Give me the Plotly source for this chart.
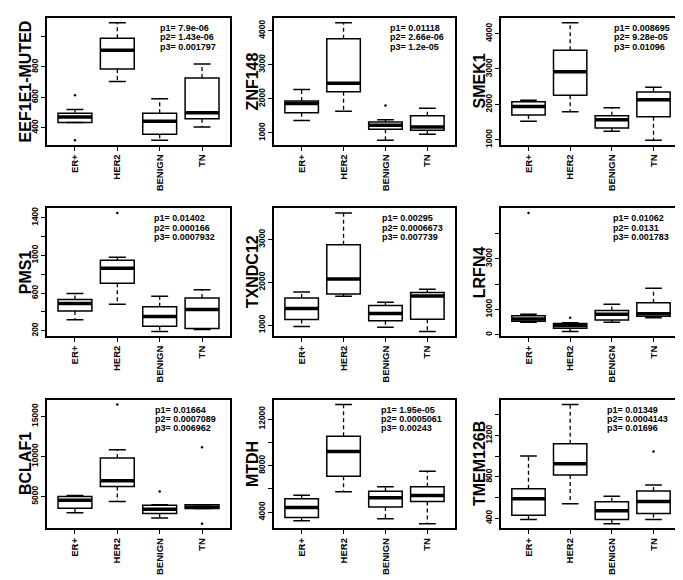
import plotly.graph_objects as go

# Groups on the x axis and the genes of the nine panels
groups = ["ER+", "HER2", "BENIGN", "TN"]
genes = ["EEF1E1-MUTED", "ZNF148", "SMEK1",
         "PMS1", "TXNDC12", "LRFN4",
         "BCLAF1", "MTDH", "TMEM126B"]

# Box statistics, one list of 4 groups per gene (ER+, HER2, BENIGN, TN)
lower_whisker = [[433, 704, 317, 404], [1366, 1636, 788, 961], [1522, 1792, 1242, 991],
                 [316, 481, 193, 214], [969, 1674, 953, 853], [494, 130, 494, 675],
                 [2975, 4380, 2314, 3512], [3257, 5743, 3429, 3000], [387, 538, 345, 387]]
q1 = [[433, 787, 356, 459], [1588, 2205, 1106, 1077], [1699, 2258, 1335, 1652],
      [411, 705, 249, 225], [1132, 1729, 1101, 1140], [532, 260, 584, 727],
      [3554, 6240, 2893, 3512], [3543, 7086, 4429, 4914], [426, 818, 387, 445]]
median = [[470, 911, 441, 498], [1858, 2456, 1222, 1174], [1941, 2920, 1568, 2128],
          [488, 863, 351, 425], [1388, 2078, 1271, 1682], [623, 364, 805, 831],
          [4545, 6983, 3430, 3678], [4400, 9200, 5229, 5429], [586, 927, 471, 561]]
q3 = [[494, 990, 494, 728], [1935, 3758, 1318, 1501], [2072, 3526, 1680, 2351],
      [533, 947, 456, 547], [1636, 2876, 1457, 1760], [753, 442, 961, 1260],
      [5000, 9793, 3900, 3967], [5143, 10514, 5800, 6171], [683, 1120, 557, 663]]
upper_whisker = [[520, 1093, 590, 820], [2273, 4230, 1386, 1723], [2118, 4308, 1904, 2482],
                 [596, 979, 565, 635], [1775, 3620, 1535, 1837], [805, 468, 1208, 1831],
                 [5124, 10826, 3967, 3967], [5457, 13257, 6171, 7514], [1001, 1502, 612, 721]]

# Outliers: (group index, value)
outliers = [[(0, 317), (0, 614)], [(2, 1800)], [],
            [(1, 1449)], [], [(0, 4805), (1, 675)],
            [(1, 16488), (2, 5620), (3, 11157), (3, 1612)], [], [(3, 1046)]]

# p-values printed in each panel
pvalues = [["7.9e-06", "1.43e-06", "0.001797"],
           ["0.01118", "2.66e-06", "1.2e-05"],
           ["0.008695", "9.28e-05", "0.01096"],
           ["0.01402", "0.000166", "0.0007932"],
           ["0.00295", "0.0006673", "0.007739"],
           ["0.01062", "0.0131", "0.001783"],
           ["0.01664", "0.0007089", "0.006962"],
           ["1.95e-05", "0.0005061", "0.00243"],
           ["0.01349", "0.0004143", "0.01696"]]

# y ticks and their labels (empty label = tick without text)
y_ticks = [[400, 600, 800, 1000], [1000, 2000, 3000, 4000], [1000, 2000, 3000, 4000],
           [200, 400, 600, 800, 1000, 1200, 1400], [1000, 2000, 3000], [0, 1000, 2000, 3000, 4000],
           [5000, 10000, 15000], [4000, 6000, 8000, 10000, 12000], [400, 600, 800, 1000, 1200, 1400]]
y_ticklabels = [["400", "600", "800", ""], ["1000", "2000", "3000", "4000"], ["1000", "2000", "3000", "4000"],
                ["200", "", "600", "", "1000", "", "1400"], ["1000", "2000", "3000"], ["0", "1000", "", "3000", ""],
                ["5000", "10000", "15000"], ["4000", "", "8000", "", "12000"], ["400", "", "800", "", "1200", ""]]

W, H = 683, 580
col_px = [(39, 222), (266, 447), (493, 673)]
row_px = [(8, 136), (200, 329), (393, 523)]
p_left_px = [150, 380, 604, 144, 372, 603, 145, 371, 597]

FONT = "Liberation Sans, Arial, sans-serif"
pos = [1, 2, 3, 4]

fig = go.Figure()
layout = {}
annotations = []

for k in range(9):
    r, c = divmod(k, 3)
    n = k + 1
    xa = "x" if n == 1 else "x%d" % n
    ya = "y" if n == 1 else "y%d" % n

    # box body
    fig.add_trace(go.Box(
        x=pos, q1=q1[k], median=median[k], q3=q3[k],
        lowerfence=q1[k], upperfence=q3[k],
        width=0.8, whiskerwidth=0, fillcolor="white",
        line=dict(color="black", width=1.5),
        xaxis=xa, yaxis=ya, showlegend=False, hoverinfo="skip"))
    # thick median
    fig.add_trace(go.Box(
        x=pos, q1=median[k], median=median[k], q3=median[k],
        lowerfence=median[k], upperfence=median[k],
        width=0.8, whiskerwidth=0, fillcolor="black",
        line=dict(color="black", width=3.5),
        xaxis=xa, yaxis=ya, showlegend=False, hoverinfo="skip"))

    # dashed whiskers and solid caps
    wx, wy, cx, cy = [], [], [], []
    for i, p in enumerate(pos):
        wx += [p, p, None, p, p, None]
        wy += [q3[k][i], upper_whisker[k][i], None, q1[k][i], lower_whisker[k][i], None]
        cx += [p - 0.2, p + 0.2, None, p - 0.2, p + 0.2, None]
        cy += [upper_whisker[k][i], upper_whisker[k][i], None,
               lower_whisker[k][i], lower_whisker[k][i], None]
    fig.add_trace(go.Scatter(x=wx, y=wy, mode="lines",
                             line=dict(color="black", width=1.3, dash="4px,3px"),
                             xaxis=xa, yaxis=ya, showlegend=False, hoverinfo="skip"))
    fig.add_trace(go.Scatter(x=cx, y=cy, mode="lines",
                             line=dict(color="black", width=1.5),
                             xaxis=xa, yaxis=ya, showlegend=False, hoverinfo="skip"))

    # outliers
    if outliers[k]:
        fig.add_trace(go.Scatter(
            x=[pos[g] for g, v in outliers[k]], y=[v for g, v in outliers[k]],
            mode="markers", marker=dict(color="black", size=2.5),
            xaxis=xa, yaxis=ya, showlegend=False, hoverinfo="skip"))

    # y range like R: data range extended by 4%
    allv = lower_whisker[k] + upper_whisker[k] + [v for g, v in outliers[k]]
    lo, hi = min(allv), max(allv)
    pad = (hi - lo) * 0.04

    x0, x1 = col_px[c]
    y0, y1 = row_px[r]
    axis_common = dict(showline=True, mirror=True, linecolor="black", linewidth=1.5,
                       showgrid=False, zeroline=False, ticks="outside", ticklen=4,
                       tickcolor="black", tickwidth=1.2)
    layout["xaxis" if n == 1 else "xaxis%d" % n] = dict(
        axis_common, domain=[x0 / W, x1 / W], anchor=ya, range=[0.34, 4.66],
        tickvals=pos, ticktext=groups, tickangle=-90,
        tickfont=dict(family=FONT, size=9.5, color="black", weight="bold"))
    layout["yaxis" if n == 1 else "yaxis%d" % n] = dict(
        axis_common, domain=[1 - y1 / H, 1 - y0 / H], anchor=xa, range=[lo - pad, hi + pad],
        tickvals=y_ticks[k], ticktext=y_ticklabels[k], tickangle=-90,
        tickfont=dict(family=FONT, size=8.5, color="black", weight="bold"))

    # gene name as y title
    annotations.append(dict(
        xref="paper", yref="paper", x=(x0 - 22) / W, y=1 - (y0 + y1) / 2 / H,
        text=genes[k], textangle=-90, showarrow=False, xanchor="center", yanchor="middle",
        font=dict(family=FONT, size=16, color="black", weight="bold")))

    # p-values
    for j, pv in enumerate(pvalues[k]):
        annotations.append(dict(
            xref="paper", yref="paper", x=p_left_px[k] / W, y=1 - (y0 + 10 + 9.5 * j) / H,
            text="p%d= %s" % (j + 1, pv), showarrow=False, xanchor="left", yanchor="middle",
            font=dict(family=FONT, size=9, color="black", weight="bold")))

fig.update_layout(**layout)
fig.update_layout(
    width=W, height=H,
    margin=dict(l=0, r=0, t=0, b=0),
    paper_bgcolor="white", plot_bgcolor="white",
    annotations=annotations,
    showlegend=False,
)

fig.write_html("out.html")
